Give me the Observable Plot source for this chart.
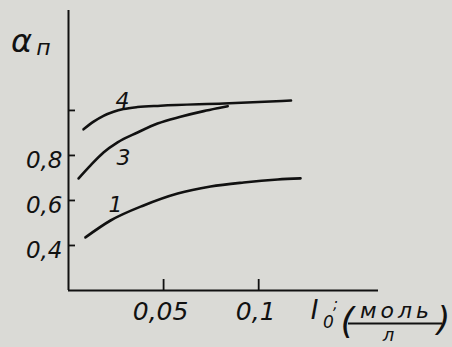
<!DOCTYPE html>
<html>
<head>
<meta charset="utf-8">
<script src="https://cdn.jsdelivr.net/npm/d3@7"></script>
<script src="https://cdn.jsdelivr.net/npm/@observablehq/plot@0.6"></script>
<style>
  html, body { margin: 0; padding: 0; background: #dadad6; }
  #chart { width: 452px; height: 347px; }
  .spaced text { letter-spacing: 4px; }
</style>
</head>
<body>
<div id="chart"></div>
<script>
// Tick values and labels
const xTicks = [0.05, 0.1];
const xTickLabels = ["0,05", "0,1"];
const yTicks = [0.4, 0.6, 0.8, 1.0];
const yTickLabels = ["0,4", "0,6", "0,8", ""];

// Curve 1
const curve1X = [0.0089, 0.0221, 0.0395, 0.0574, 0.0747, 0.0921, 0.110, 0.122];
const curve1Y = [0.436, 0.511, 0.578, 0.631, 0.662, 0.680, 0.693, 0.698];
// Curve 3
const curve3X = [0.0053, 0.0116, 0.0184, 0.0258, 0.0363, 0.0468, 0.0589, 0.0711, 0.0784, 0.0837];
const curve3Y = [0.698, 0.756, 0.813, 0.858, 0.902, 0.942, 0.972, 0.997, 1.010, 1.019];
// Curve 4
const curve4X = [0.0079, 0.0132, 0.0184, 0.0237, 0.0289, 0.0363, 0.0484, 0.0816, 0.117];
const curve4Y = [0.916, 0.950, 0.976, 0.994, 1.006, 1.015, 1.021, 1.031, 1.044];

// Curve labels
const curveNames = ["1", "3", "4"];
const curveLabelX = [0.0247, 0.0289, 0.0284];
const curveLabelY = [0.578, 0.791, 1.044];

const toPts = (xs, ys) => xs.map((x, i) => ({x, y: ys[i]}));
const c1 = toPts(curve1X, curve1Y);
const c3 = toPts(curve3X, curve3Y);
const c4 = toPts(curve4X, curve4Y);
const labels = curveNames.map((t, i) => ({t, x: curveLabelX[i], y: curveLabelY[i]}));

const font = "DejaVu Sans";
const ink = "#111";
const W = 452, H = 347, mL = 68, mR = 74, mT = 10, mB = 57;
const frameW = W - mL - mR, frameH = H - mT - mB;
const xDomain = [0, 0.163], yDomain = [0.2, 1.444];
// fraction bar of the unit, 33px below the x axis
const barY = yDomain[0] - 33 * (yDomain[1] - yDomain[0]) / frameH;
const it = {fontStyle: "italic", fill: ink, textAnchor: "middle", lineAnchor: "middle"};

const plot = Plot.plot({
  width: W,
  height: H,
  marginLeft: mL,
  marginRight: mR,
  marginTop: mT,
  marginBottom: mB,
  style: {background: "transparent", fontFamily: font, color: ink},
  x: {domain: xDomain},
  y: {domain: yDomain},
  marks: [
    // axis lines
    Plot.ruleX([0], {stroke: ink, strokeWidth: 2}),
    Plot.ruleY([0.2], {stroke: ink, strokeWidth: 2}),
    // inward ticks
    Plot.tickY(yTicks, {y: d => d, stroke: ink, strokeWidth: 1.8, insetRight: frameW - 7}),
    Plot.tickX(xTicks, {x: d => d, stroke: ink, strokeWidth: 1.8, insetTop: frameH - 11}),
    // tick labels
    Plot.axisY({ticks: yTicks, tickSize: 0, tickPadding: 6, dy: 5,
      tickFormat: d => yTickLabels[yTicks.indexOf(d)],
      fontSize: 23, fontStyle: "italic", fill: ink, label: null}),
    Plot.axisX({ticks: xTicks, tickSize: 0, tickPadding: 12, dx: -3,
      tickFormat: d => xTickLabels[xTicks.indexOf(d)],
      fontSize: 25, fontStyle: "italic", fill: ink, label: null}),
    // curves
    Plot.line(c1, {x: "x", y: "y", stroke: ink, strokeWidth: 2.6, curve: "monotone-x"}),
    Plot.line(c3, {x: "x", y: "y", stroke: ink, strokeWidth: 2.6, curve: "monotone-x"}),
    Plot.line(c4, {x: "x", y: "y", stroke: ink, strokeWidth: 2.6, curve: "monotone-x"}),
    // curve labels
    Plot.text(labels, {x: "x", y: "y", text: "t", fontSize: 22, ...it}),
    // y-axis title
    Plot.text(["α"], {frameAnchor: "top-left", dx: -47, dy: 31, fontSize: 32, ...it}),
    Plot.text(["п"], {frameAnchor: "top-left", dx: -25, dy: 37, fontSize: 22, ...it}),
    // x-axis title
    Plot.text(["I"], {frameAnchor: "bottom-left", dx: 246, dy: 20, fontSize: 26, ...it}),
    Plot.text(["0"], {frameAnchor: "bottom-left", dx: 260, dy: 32, fontSize: 17, ...it}),
    Plot.text([";"], {frameAnchor: "bottom-left", dx: 267, dy: 14, fontSize: 15, ...it}),
    Plot.text(["("], {frameAnchor: "bottom-left", dx: 279, dy: 31, fontSize: 36, ...it}),
    Plot.text(["моль"], {frameAnchor: "bottom-left", dx: 328, dy: 20, fontSize: 22, className: "spaced", ...it}),
    Plot.tickY([barY], {y: d => d, stroke: ink, strokeWidth: 2, clip: false,
      insetLeft: 348 - mL, insetRight: (W - mR) - 442}),
    Plot.text(["л"], {frameAnchor: "bottom-left", dx: 320, dy: 45, fontSize: 18, ...it}),
    Plot.text([")"], {frameAnchor: "bottom-left", dx: 375, dy: 30, fontSize: 34, ...it})
  ]
});
document.getElementById("chart").appendChild(plot);
</script>
</body>
</html>
